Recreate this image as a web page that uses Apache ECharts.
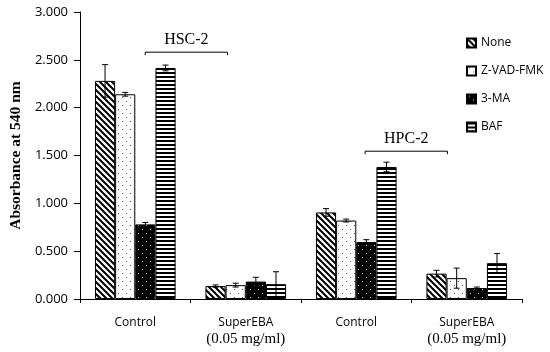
<!DOCTYPE html>
<html>
<head>
<meta charset="utf-8">
<script src="https://cdn.jsdelivr.net/npm/echarts@6/dist/echarts.min.js"></script>
<style>
html,body{margin:0;padding:0;background:#fff;}
#chart{width:550px;height:352px;}
</style>
</head>
<body>
<div id="chart"></div>
<script>
// ---- data ----
var categories = ['Control', 'SuperEBA\n(0.05 mg/ml)', 'Control', 'SuperEBA\n(0.05 mg/ml)'];
var seriesNames = ['None', 'Z-VAD-FMK', '3-MA', 'BAF'];
var noneVals = [2.28, 0.135, 0.905, 0.265];
var zvadVals = [2.14, 0.145, 0.82, 0.218];
var maVals   = [0.78, 0.182, 0.595, 0.115];
var bafVals  = [2.415, 0.155, 1.38, 0.375];
var noneErr = [0.17, 0.012, 0.04, 0.035];
var zvadErr = [0.02, 0.02, 0.015, 0.105];
var maErr   = [0.02, 0.045, 0.025, 0.01];
var bafErr  = [0.03, 0.13, 0.05, 0.1];
var yTicks = [0, 0.5, 1, 1.5, 2, 2.5, 3];
var cellLines = ['HSC-2', 'HPC-2'];
var bracketFrom = [0.59, 2.58];
var bracketTo = [1.335, 3.325];
var bracketLevel = [2.58, 1.545];

var values = [noneVals, zvadVals, maVals, bafVals];
var errs = [noneErr, zvadErr, maErr, bafErr];

// ---- patterns ----
function mk(w, h, draw) {
  var c = document.createElement('canvas');
  c.width = w; c.height = h;
  var g = c.getContext('2d');
  draw(g, w, h);
  return c;
}
var patNone = mk(6, 6, function (g, w, h) {
  g.fillStyle = '#fff'; g.fillRect(0, 0, w, h);
  g.strokeStyle = '#000'; g.lineWidth = 2;
  for (var x = -w; x <= w; x += w) {
    g.beginPath(); g.moveTo(x - 1, -1); g.lineTo(x + w + 1, h + 1); g.stroke();
  }
});
var patZvad = mk(8, 8, function (g, w, h) {
  g.fillStyle = '#fff'; g.fillRect(0, 0, w, h);
  g.fillStyle = '#555';
  g.fillRect(2, 1, 1, 1); g.fillRect(6, 5, 1, 1);
});
var patMa = mk(8, 8, function (g, w, h) {
  g.fillStyle = '#000'; g.fillRect(0, 0, w, h);
  g.fillStyle = '#ddd';
  g.fillRect(2, 1, 1, 1); g.fillRect(6, 5, 1, 1);
});
var patBaf = mk(4, 4, function (g, w, h) {
  g.fillStyle = '#fff'; g.fillRect(0, 0, w, h);
  g.fillStyle = '#000'; g.fillRect(0, 0, w, 2);
});
var patterns = [patNone, patZvad, patMa, patBaf];

var chart = echarts.init(document.getElementById('chart'), null, {renderer: 'canvas'});

var barGapPct = 0.27;
var series = [];
seriesNames.forEach(function (name, i) {
  series.push({
    name: name,
    type: 'bar',
    xAxisIndex: 0,
    data: values[i],
    barGap: '0%',
    barCategoryGap: (barGapPct * 100) + '%',
    itemStyle: {
      color: {image: patterns[i], repeat: 'repeat'},
      borderColor: '#000',
      borderWidth: 1
    },
    emphasis: {disabled: true},
    z: 2
  });
});

// error bars
seriesNames.forEach(function (name, i) {
  var d = values[i].map(function (v, k) { return [k, v, errs[i][k]]; });
  series.push({
    type: 'custom',
    xAxisIndex: 0,
    data: d,
    z: 5,
    silent: true,
    renderItem: function (params, api) {
      var k = api.value(0), v = api.value(1), e = api.value(2);
      var band = api.size([1, 0])[0];
      var bw = band * (1 - barGapPct) / 4;
      var cx = api.coord([k, v])[0] + (i - 1.5) * bw;
      var top = api.coord([k, v + e])[1];
      var bot = api.coord([k, v - e])[1];
      var cap = 3;
      var st = {stroke: '#000', lineWidth: 1};
      return {
        type: 'group',
        children: [
          {type: 'line', shape: {x1: cx, y1: top, x2: cx, y2: bot}, style: st},
          {type: 'line', shape: {x1: cx - cap, y1: top, x2: cx + cap, y2: top}, style: st},
          {type: 'line', shape: {x1: cx - cap, y1: bot, x2: cx + cap, y2: bot}, style: st}
        ]
      };
    }
  });
});

// brackets
series.push({
  type: 'custom',
  xAxisIndex: 1,
  data: cellLines.map(function (t, k) { return [bracketFrom[k], bracketTo[k], bracketLevel[k], k]; }),
  silent: true,
  z: 6,
  renderItem: function (params, api) {
    var a = api.coord([api.value(0), api.value(2)]);
    var b = api.coord([api.value(1), api.value(2)]);
    var k = api.value(3);
    return {
      type: 'group',
      children: [
        {type: 'polyline', shape: {points: [[a[0], a[1] + 3], [a[0], a[1]], [b[0], b[1]], [b[0], b[1] + 3]]}, style: {stroke: '#000', lineWidth: 1, fill: null}},
        {type: 'text', style: {text: cellLines[k], x: (a[0] + b[0]) / 2, y: a[1] - 4, align: 'center', verticalAlign: 'bottom',
          font: '16px "Liberation Serif", "Times New Roman", serif', fill: '#000'}}
      ]
    };
  }
});

chart.setOption({
  animation: false,
  backgroundColor: '#fff',
  grid: {left: 76, right: 28, top: 12, bottom: 53, containLabel: false},
  legend: {
    orient: 'vertical',
    left: 466,
    top: 36,
    padding: 0,
    data: seriesNames,
    icon: 'rect',
    itemWidth: 9,
    itemHeight: 9,
    itemGap: 14,
    textStyle: {fontFamily: '"Open Sans", sans-serif', fontSize: 12, color: '#000', lineHeight: 14},
    selectedMode: false
  },
  xAxis: [{
    type: 'category',
    data: categories,
    axisLine: {lineStyle: {color: '#000', width: 1}},
    axisTick: {show: true, length: 4, lineStyle: {color: '#000'}},
    axisLabel: {
      margin: 16,
      interval: 0,
      color: '#000',
      formatter: function (v) {
        var p = v.split('\n');
        return p.length > 1 ? '{s|' + p[0] + '}\n{t|' + p[1] + '}' : '{s|' + v + '}';
      },
      rich: {
        s: {fontFamily: '"Open Sans", sans-serif', fontSize: 12, color: '#000', lineHeight: 16},
        t: {fontFamily: '"Liberation Serif", "Times New Roman", serif', fontSize: 15, color: '#000', lineHeight: 17}
      }
    }
  }, {
    type: 'value',
    min: 0, max: 4,
    show: false
  }],
  yAxis: {
    type: 'value',
    min: 0, max: 3, interval: 0.5,
    name: 'Absorbance at 540 nm',
    nameLocation: 'middle',
    nameGap: 54,
    nameTextStyle: {fontFamily: '"Liberation Serif", "Times New Roman", serif', fontWeight: 'bold', fontSize: 15.5, color: '#000'},
    axisLine: {show: true, lineStyle: {color: '#000', width: 1}},
    axisTick: {show: true, length: 6, lineStyle: {color: '#000'}},
    splitLine: {show: false},
    axisLabel: {
      margin: 12,
      color: '#000',
      fontFamily: '"Open Sans", sans-serif',
      fontSize: 13,
      formatter: function (v) { return v.toFixed(3); }
    }
  },
  series: series
});
</script>
</body>
</html>
